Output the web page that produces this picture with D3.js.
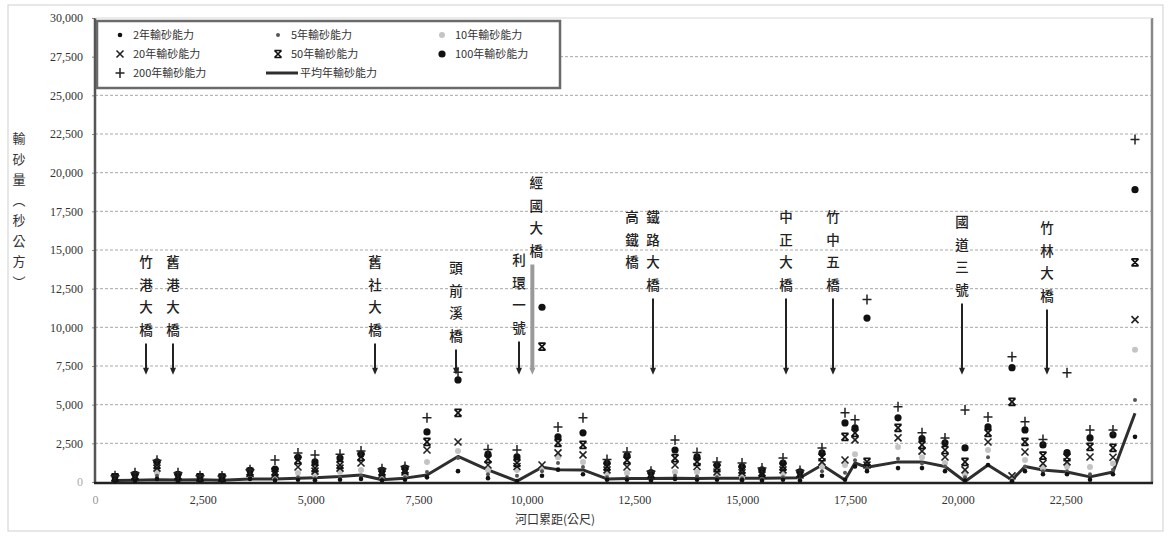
<!DOCTYPE html>
<html><head><meta charset="utf-8">
<script src="https://cdn.jsdelivr.net/npm/d3@7"></script>
<style>body{margin:0;background:#fff}svg{display:block}</style>
</head><body>
<svg id="chart" width="1168" height="537"></svg>
<script>
// ---------------- DATA ----------------
const distances = [464,927,1437,1924,2434,2944,3593,4172,4705,5099,5679,6166,6652,7185,7695,8414,9109,9781,10361,10732,11311,11868,12331,12887,13444,13954,14417,14997,15460,15947,16341,16851,17384,17616,17894,18613,19169,19702,20166,20699,21255,21556,21973,22530,23063,23596,24106];
const q2   = [50,60,200,50,80,60,200,100,150,120,150,200,100,150,300,700,250,60,400,800,500,150,150,100,200,150,150,120,100,150,100,400,150,1000,700,900,900,700,100,1100,50,700,500,500,150,500,2920];
const q5   = [80,100,400,100,120,100,300,200,300,250,300,400,200,300,650,1550,500,400,700,1230,970,300,300,200,400,350,300,250,200,300,200,700,600,1400,850,1500,1200,1000,300,1600,100,1000,700,700,500,800,5300];
const q10  = [150,200,600,200,180,150,400,300,580,450,650,780,350,500,1300,2000,780,780,900,1600,1300,550,580,300,650,650,500,330,350,550,300,1000,1100,1800,950,2270,1600,1230,500,2070,200,1420,900,1000,970,1200,8550];
const q20  = [250,300,900,300,250,200,550,500,970,700,900,1230,500,650,2070,2590,1100,1000,1100,1880,1750,780,970,400,1100,1000,650,600,450,780,450,1300,1420,2720,1100,2850,2000,1620,780,2590,400,1940,1200,1300,1620,1600,10500];
const q50  = [300,400,1100,400,300,280,650,650,1420,900,1100,1620,650,780,2600,4470,1500,1230,8750,2530,2400,1000,1420,500,1550,1300,900,780,600,1000,550,1600,2920,3180,1300,3500,2400,2070,1300,3180,5180,2590,1700,1600,2270,2200,14200];
const q100 = [350,500,1300,500,350,330,750,840,1600,1300,1550,1800,750,900,3240,6600,1800,1620,11300,2920,3180,1230,1700,600,2070,1620,1100,1000,780,1230,650,1880,3820,3500,10600,4150,2800,2530,2200,3560,7390,3370,2400,1900,2850,3050,18900];
const q200 = [400,600,1400,600,400,380,800,1420,1880,1750,1800,2000,850,1000,4150,7100,2100,2070,null,3560,4150,1450,1940,700,2720,1900,1300,1230,900,1550,750,2200,4470,4020,11800,4860,3180,2850,4660,4210,8100,3890,2750,7060,3370,3370,22150];
const qMean= [100,120,150,130,150,120,200,200,250,280,350,450,150,250,450,1650,780,60,950,800,780,200,220,230,250,230,240,250,250,260,270,1100,130,1230,950,1300,1300,1000,30,1100,130,1000,780,650,330,650,4450];

const seriesNames = ["2年輸砂能力","5年輸砂能力","10年輸砂能力","20年輸砂能力","50年輸砂能力","100年輸砂能力","200年輸砂能力","平均年輸砂能力"];
const yTickValues = [0,2500,5000,7500,10000,12500,15000,17500,20000,22500,25000,27500,30000];
const xTickValues = [0,2500,5000,7500,10000,12500,15000,17500,20000,22500];
const bridgeNames = ["竹港大橋","舊港大橋","舊社大橋","頭前溪橋","利環一號","經國大橋","高鐵橋","鐵路大橋","中正大橋","竹中五橋","國道三號","竹林大橋"];
const bridgeDist  = [1182,1808,6490,8368,9828,10230,12447,12934,16017,17106,20096,22066];
const xTitle = "河口累距(公尺)";
const yTitle = "輸砂量︵秒公方︶";

// ---------------- LAYOUT ----------------
const svg = d3.select("#chart");
const L = 95, R = 1152, T = 18, B = 482;
const x = d3.scaleLinear().domain([0,24500]).range([L,R]);
const y = d3.scaleLinear().domain([0,30000]).range([B,T]);
const cjk = "'Noto Sans CJK TC','Noto Sans CJK SC',sans-serif";
const serif = "'Liberation Serif','DejaVu Serif',serif";

// outer chart border
svg.append("rect").attr("x",8).attr("y",5).attr("width",1155).attr("height",526)
  .attr("fill","none").attr("stroke","#d0d0d0").attr("stroke-width",1);

// gridlines
svg.append("g").selectAll("line").data(yTickValues.filter(v=>v>0 && v<30000)).join("line")
  .attr("x1",L).attr("x2",R).attr("y1",d=>y(d)).attr("y2",d=>y(d))
  .attr("stroke","#a8a8a8").attr("stroke-width",1).attr("stroke-dasharray","3,2");

// y axis
const yAxis = svg.append("g").attr("transform",`translate(${L},0)`)
  .call(d3.axisLeft(y).tickValues(yTickValues).tickSize(3).tickFormat(d3.format(",")));
yAxis.select(".domain").remove();
yAxis.selectAll("line").attr("stroke","#888");
yAxis.selectAll("text").attr("x",-12).attr("font-family",serif).attr("font-size",12).attr("fill","#333")
  .attr("fill",d=>d===0?"#aaa":"#333");

// x axis
const xAxis = svg.append("g").attr("transform",`translate(0,${B})`)
  .call(d3.axisBottom(x).tickValues(xTickValues).tickSize(0).tickFormat(d3.format(",")));
xAxis.select(".domain").remove();
xAxis.selectAll("text").attr("dy","1.6em").attr("font-family",serif).attr("font-size",12).attr("fill","#333")
  .attr("fill",d=>d===0?"#999":"#333");

// frame
svg.append("line").attr("x1",L).attr("x2",L).attr("y1",T).attr("y2",B+1).attr("stroke","#555").attr("stroke-width",2.5);
svg.append("line").attr("x1",R).attr("x2",R).attr("y1",T).attr("y2",B+1).attr("stroke","#888").attr("stroke-width",2.5);
svg.append("line").attr("x1",L).attr("x2",R).attr("y1",T).attr("y2",T).attr("stroke","#d8d8d8").attr("stroke-width",1);
svg.append("line").attr("x1",L-1).attr("x2",R+1).attr("y1",B+1).attr("y2",B+1).attr("stroke","#222").attr("stroke-width",2.5);

// titles
svg.append("text").attr("x",555).attr("y",524).attr("text-anchor","middle")
  .attr("font-family",cjk).attr("font-size",12).attr("fill","#333").text(xTitle);
const yt = svg.append("text").attr("font-family",cjk).attr("font-size",13).attr("fill","#333").attr("text-anchor","middle");
Array.from(yTitle).forEach((ch,i)=>{
  yt.append("tspan").attr("x",19).attr("y",143+i*20.5).text(ch);
});

// bridge labels with arrows
const labelTop = [262,262,262,268,260,183,217,217,217,217,222,228];
const hasArrow = [1,1,1,1,1,1,0,1,1,1,1,1];
const step = 22.5;
const arrowTip = y(7000);
bridgeNames.forEach((name,i)=>{
  const bx = x(bridgeDist[i]);
  const chars = Array.from(name);
  const g = svg.append("g");
  const t = g.append("text").attr("font-family",cjk).attr("font-size",13.5).attr("font-weight",500)
    .attr("fill","#222").attr("text-anchor","middle");
  chars.forEach((ch,k)=>{
    t.append("tspan").attr("x",bx).attr("y",labelTop[i]+k*step+5).text(ch);
  });
  if(hasArrow[i]){
    const y0 = labelTop[i]+(chars.length-1)*step+14;
    const gray = name==="經國大橋";
    const ax = gray ? bx-4 : bx;
    g.append("line").attr("x1",ax).attr("x2",ax).attr("y1",y0).attr("y2",arrowTip-4)
      .attr("stroke",gray?"#9a9a9a":"#222").attr("stroke-width",gray?4:2);
    g.append("path").attr("d",`M${ax-3},${arrowTip-6}L${ax+3},${arrowTip-6}L${ax},${arrowTip+1}Z`)
      .attr("fill",gray?"#9a9a9a":"#222");
  }
});

// markers
const markers = {
  m2:  g=>g.append("circle").attr("r",2.3).attr("fill","#111"),
  m5:  g=>g.append("circle").attr("r",2).attr("fill","#555"),
  m10: g=>g.append("circle").attr("r",3).attr("fill","#c4c4c4"),
  m20: g=>g.append("path").attr("d","M-3.5,-3.5L3.5,3.5M-3.5,3.5L3.5,-3.5").attr("stroke","#222").attr("stroke-width",1.6).attr("fill","none"),
  m50: g=>g.append("path").attr("d","M-3.5,-3.5L3.5,3.5M-3.5,3.5L3.5,-3.5M-3.5,-3.5H3.5M-3.5,3.5H3.5").attr("stroke","#111").attr("stroke-width",1.7).attr("fill","none"),
  m100:g=>g.append("circle").attr("r",3.6).attr("fill","#111"),
  m200:g=>g.append("path").attr("d","M-4.5,0H4.5M0,-5V5").attr("stroke","#222").attr("stroke-width",1.5).attr("fill","none")
};

// mean line
const meanData = distances.map((d,i)=>[d,qMean[i]]);
svg.append("path").datum(meanData)
  .attr("d",d3.line().x(d=>x(d[0])).y(d=>y(d[1])))
  .attr("fill","none").attr("stroke","#2e2e2e").attr("stroke-width",3).attr("stroke-linejoin","round");

const seriesList = [["m10",q10],["m5",q5],["m2",q2],["m20",q20],["m50",q50],["m100",q100],["m200",q200]];
seriesList.forEach(([m,vals])=>{
  const g = svg.append("g");
  distances.forEach((d,i)=>{
    if(vals[i]==null) return;
    const mg = g.append("g").attr("transform",`translate(${x(d)},${y(vals[i])})`);
    markers[m](mg);
  });
});

// legend
const lg = svg.append("g");
lg.append("rect").attr("x",97).attr("y",21).attr("width",463).attr("height",67)
  .attr("fill","#fff").attr("stroke","#6a6a6a").attr("stroke-width",2.5);
const legendItems = [
  {m:"m2",  name:seriesNames[0], sx:120, tx:133, yy:35},
  {m:"m5",  name:seriesNames[1], sx:278, tx:291, yy:35},
  {m:"m10", name:seriesNames[2], sx:442, tx:455, yy:35},
  {m:"m20", name:seriesNames[3], sx:120, tx:133, yy:54},
  {m:"m50", name:seriesNames[4], sx:278, tx:291, yy:54},
  {m:"m100",name:seriesNames[5], sx:442, tx:455, yy:54},
  {m:"m200",name:seriesNames[6], sx:120, tx:133, yy:73},
  {m:"line",name:seriesNames[7], sx:282, tx:300, yy:73}
];
legendItems.forEach(it=>{
  if(it.m==="line"){
    lg.append("line").attr("x1",266).attr("x2",298).attr("y1",it.yy).attr("y2",it.yy)
      .attr("stroke","#2e2e2e").attr("stroke-width",3);
  } else {
    markers[it.m](lg.append("g").attr("transform",`translate(${it.sx},${it.yy})`));
  }
  lg.append("text").attr("x",it.tx).attr("y",it.yy+4).attr("font-family",cjk).attr("font-size",11)
    .attr("fill","#333").text(it.name);
});
</script>
</body></html>
